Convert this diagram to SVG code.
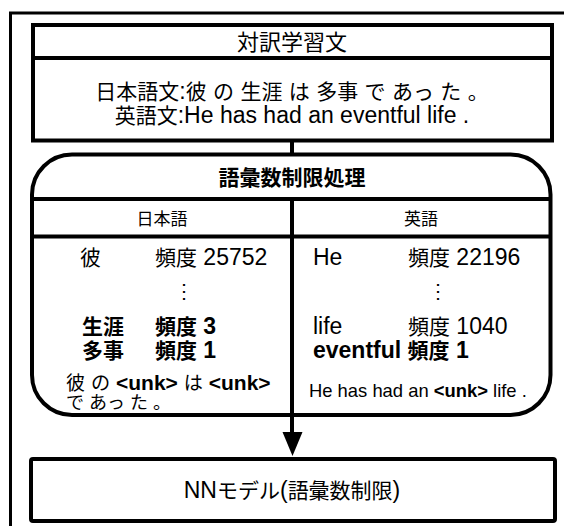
<svg xmlns="http://www.w3.org/2000/svg" width="564" height="526" viewBox="0 0 564 526">
<style>
text{font-family:"Liberation Sans","Noto Sans CJK JP",sans-serif;fill:#000}
.b{font-weight:bold}
.j{font-size:0.913em}
.box{fill:#fff;stroke:#000;stroke-width:4}
.ln{stroke:#000;stroke-width:4;fill:none}
.mid{text-anchor:middle}
</style>
<rect width="564" height="526" fill="#fff"/>
<g id="frame"><path d="M10.5,526 V13 H564" fill="none" stroke="#000" stroke-width="3"/></g>
<g id="corpus">
<rect class="box" x="33" y="25" width="519" height="115.5"/>
<line class="ln" x1="33" y1="58" x2="552" y2="58"/>
<text class="mid" x="292" y="50" font-size="22">対訳学習文</text>
<text class="mid" x="292" y="99" font-size="23"><tspan class="j">日本語文</tspan>:<tspan class="j">彼</tspan> <tspan class="j">の</tspan> <tspan class="j">生涯</tspan> <tspan class="j">は</tspan> <tspan class="j">多事</tspan> <tspan class="j">で</tspan> <tspan class="j">あっ</tspan> <tspan class="j">た</tspan> <tspan class="j">。</tspan></text>
<text class="mid" x="292" y="123" font-size="23"><tspan class="j">英語文</tspan>:He has had an eventful life .</text>
</g>
<g id="vocab">
<rect class="box" x="32" y="154.5" width="518.5" height="260.5" rx="40" ry="40"/>
<line class="ln" x1="32" y1="199" x2="550.5" y2="199"/>
<line class="ln" x1="32" y1="236.5" x2="550.5" y2="236.5"/>
<text class="mid b" x="292" y="185" font-size="21">語彙数制限処理</text>
<text class="mid" x="162" y="225" font-size="17">日本語</text>
<text class="mid" x="421" y="225" font-size="17">英語</text>
<text x="80" y="265" font-size="21">彼</text>
<text x="155" y="265" font-size="23"><tspan class="j">頻度</tspan> 25752</text>
<text x="174" y="298" font-size="20">⋮</text>
<text class="b" x="82" y="334" font-size="21">生涯</text>
<text class="b" x="155" y="334" font-size="23"><tspan class="j">頻度</tspan> 3</text>
<text class="b" x="82" y="358" font-size="21">多事</text>
<text class="b" x="155" y="358" font-size="23"><tspan class="j">頻度</tspan> 1</text>
<text x="66" y="390" font-size="21"><tspan class="j">彼</tspan> <tspan class="j">の</tspan> <tspan class="b">&lt;unk&gt;</tspan> <tspan class="j">は</tspan> <tspan class="b">&lt;unk&gt;</tspan></text>
<text x="66" y="409" font-size="18">で あっ た 。</text>
<text x="313" y="265" font-size="23">He</text>
<text x="408" y="265" font-size="23"><tspan class="j">頻度</tspan> 22196</text>
<text x="428" y="298" font-size="20">⋮</text>
<text x="313" y="334" font-size="23">life</text>
<text x="408" y="334" font-size="23"><tspan class="j">頻度</tspan> 1040</text>
<text class="b" x="313" y="358" font-size="23">eventful <tspan class="j">頻度</tspan> 1</text>
<text x="309" y="397" font-size="18.4">He has had an <tspan class="b">&lt;unk&gt;</tspan> life .</text>
</g>
<g id="model">
<rect class="box" x="31" y="459" width="524" height="62" rx="2"/>
<text class="mid" x="292" y="498" font-size="23">NN<tspan class="j">モデル</tspan>(<tspan class="j">語彙数制限</tspan>)</text>
</g>
<g id="connectors">
<line class="ln" x1="292" y1="140" x2="292" y2="155"/>
<line class="ln" x1="292" y1="199" x2="292" y2="434"/>
<polygon points="282.5,432 302.5,432 292.5,456" fill="#000"/>
</g>
</svg>
